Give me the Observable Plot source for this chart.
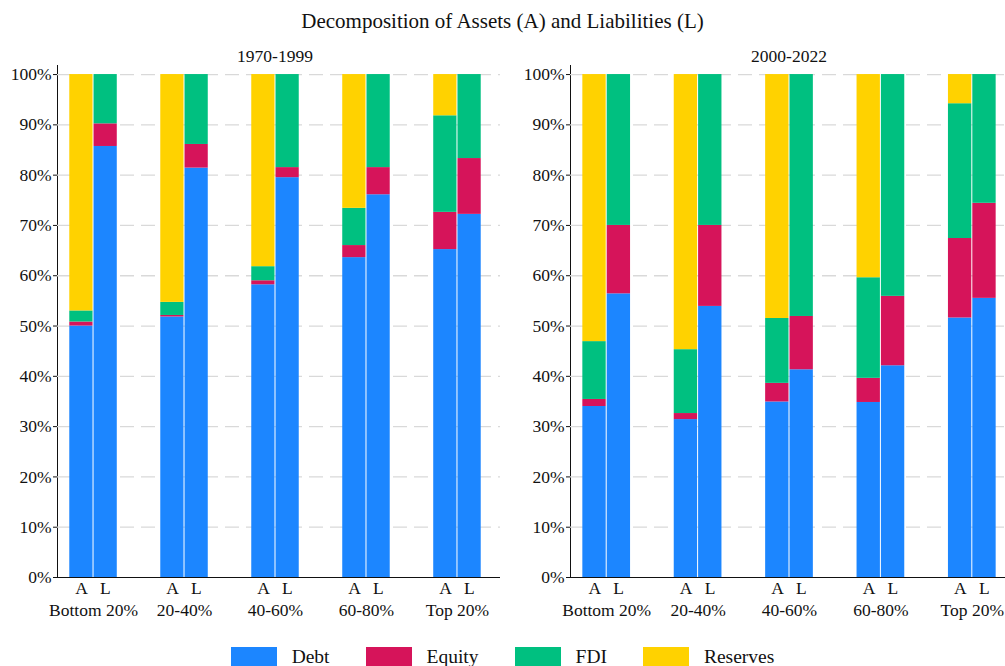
<!DOCTYPE html>
<html><head><meta charset="utf-8">
<script src="https://cdn.jsdelivr.net/npm/d3@7"></script>
<script src="https://cdn.jsdelivr.net/npm/@observablehq/plot@0.6"></script>
<style>
html,body{margin:0;padding:0;background:#fff;overflow:hidden;}
#root{position:relative;width:1005px;height:666px;overflow:hidden;font-family:"Liberation Serif","Times New Roman",serif;color:#111;}
#root svg, #root svg text, #root svg g{font-family:"Liberation Serif","Times New Roman",serif !important;}
.abs{position:absolute;}
#title{left:0;width:1005px;top:11px;text-align:center;font-size:21px;line-height:21px;white-space:nowrap;}
.ftitle{top:48px;font-size:17.5px;line-height:17.5px;text-align:center;white-space:nowrap;}
#legend{left:0;width:1005px;top:647px;display:flex;justify-content:center;align-items:flex-start;}
.item{display:flex;align-items:flex-start;margin:0 18px;}
.sw{width:46px;height:22px;margin-right:15px;}
.lt{font-size:19.5px;line-height:19.5px;white-space:nowrap;margin-top:0px;}
</style></head><body><div id="root"></div>
<script>
const groups = ["Bottom 20%", "20-40%", "40-60%", "60-80%", "Top 20%"];
const components = ["Debt", "Equity", "FDI", "Reserves"];
const colors = ["#1C86FF", "#D6145A", "#00C080", "#FFD200"];
const periods = ["1970-1999", "2000-2022"];
const yTicks = [0, 0.1, 0.2, 0.3, 0.4, 0.5, 0.6, 0.7, 0.8, 0.9, 1.0];

// 1970-1999 — Assets (A), shares in %
const debtA1 = [50.0, 51.8, 58.2, 63.6, 65.2];
const equityA1 = [0.8, 0.3, 0.8, 2.4, 7.4];
const fdiA1 = [2.2, 2.6, 2.8, 7.4, 19.2];
const reservesA1 = [47.0, 45.3, 38.2, 26.6, 8.2];
// 1970-1999 — Liabilities (L)
const debtL1 = [85.7, 81.4, 79.5, 76.1, 72.2];
const equityL1 = [4.5, 4.7, 2.0, 5.4, 11.1];
const fdiL1 = [9.8, 13.9, 18.5, 18.5, 16.7];

// 2000-2022 — Assets (A)
const debtA2 = [34.0, 31.4, 34.9, 34.8, 51.6];
const equityA2 = [1.4, 1.2, 3.7, 4.8, 15.8];
const fdiA2 = [11.5, 12.7, 12.9, 20.0, 26.8];
const reservesA2 = [53.1, 54.7, 48.5, 40.4, 5.8];
// 2000-2022 — Liabilities (L)
const debtL2 = [56.4, 53.9, 41.3, 42.1, 55.5];
const equityL2 = [13.6, 16.1, 10.6, 13.8, 18.9];
const fdiL2 = [30.0, 30.0, 48.1, 44.1, 25.6];

function rows(series) {
  const out = [];
  groups.forEach((g, i) => {
    series.forEach(([comp, arr]) => out.push({group: g, comp, value: arr[i] / 100}));
  });
  return out;
}

const root = document.getElementById("root");
const title = document.createElement("div");
title.className = "abs"; title.id = "title";
title.textContent = "Decomposition of Assets (A) and Liabilities (L)";
root.appendChild(title);

const PI = 0.478, PO = 0.135;
const FONT = '"Liberation Serif","Times New Roman",serif';

function panel(period, aSeries, lSeries, left, width, marginLeft, range) {
  const step = (range[1] - range[0]) / (groups.length - PI + 2 * PO);
  const bw = step * (1 - PI);
  const dataA = rows(aSeries);
  const dataL = rows(lSeries);
  const labA = groups.map(g => ({group: g, side: "A"}));
  const labL = groups.map(g => ({group: g, side: "L"}));
  const chart = Plot.plot({
    width, height: 640,
    marginLeft, marginRight: 0, marginTop: 65, marginBottom: 63,
    style: {fontFamily: FONT, fontSize: "17.5px", color: "#111", background: "transparent", overflow: "visible"},
    x: {type: "band", domain: groups, range, paddingInner: PI, paddingOuter: PO, round: false, tickSize: 0, tickPadding: 26, label: null},
    y: {domain: [0, 1.018], ticks: yTicks, tickFormat: d => Math.round(d * 100) + "%", tickSize: 4, tickPadding: 2, line: true, label: null},
    color: {domain: components, range: colors},
    marks: [
      Plot.ruleY(yTicks.slice(1), {stroke: "#d9d9d9", strokeWidth: 1.3, strokeDasharray: "14,7"}),
      Plot.barY(dataA, {x: "group", y: "value", fill: "comp", insetLeft: 0, insetRight: bw / 2 + 0.5}),
      Plot.barY(dataL, {x: "group", y: "value", fill: "comp", insetLeft: bw / 2 + 0.5, insetRight: 0}),
      Plot.ruleY([0], {stroke: "#111", strokeWidth: 1.2}),
      Plot.text(labA, {x: "group", text: "side", frameAnchor: "bottom", lineAnchor: "middle", dx: -bw / 4, dy: 11, fontSize: 17.5}),
      Plot.text(labL, {x: "group", text: "side", frameAnchor: "bottom", lineAnchor: "middle", dx: bw / 4, dy: 11, fontSize: 17.5})
    ]
  });
  chart.setAttribute("font-family", FONT);
  chart.querySelectorAll("text, g").forEach(el => { el.style.fontFamily = FONT; });
  chart.style.position = "absolute";
  chart.style.left = left + "px";
  chart.style.top = "0px";
  root.appendChild(chart);
  const ft = document.createElement("div");
  ft.className = "abs ftitle";
  const cx = left + (range[0] + range[1]) / 2;
  ft.style.left = (cx - 100) + "px";
  ft.style.width = "200px";
  ft.textContent = period;
  root.appendChild(ft);
}

panel(periods[0],
  [["Debt", debtA1], ["Equity", equityA1], ["FDI", fdiA1], ["Reserves", reservesA1]],
  [["Debt", debtL1], ["Equity", equityL1], ["FDI", fdiL1]],
  0, 500, 57, [57, 493]);
panel(periods[1],
  [["Debt", debtA2], ["Equity", equityA2], ["FDI", fdiA2], ["Reserves", reservesA2]],
  [["Debt", debtL2], ["Equity", equityL2], ["FDI", fdiL2]],
  500, 505, 70, [70, 508]);

const legend = document.createElement("div");
legend.className = "abs"; legend.id = "legend";
components.forEach((c, i) => {
  const it = document.createElement("div"); it.className = "item";
  const sw = document.createElement("div"); sw.className = "sw"; sw.style.background = colors[i];
  const lt = document.createElement("div"); lt.className = "lt"; lt.textContent = c;
  it.appendChild(sw); it.appendChild(lt); legend.appendChild(it);
});
root.appendChild(legend);
</script>
</body></html>
